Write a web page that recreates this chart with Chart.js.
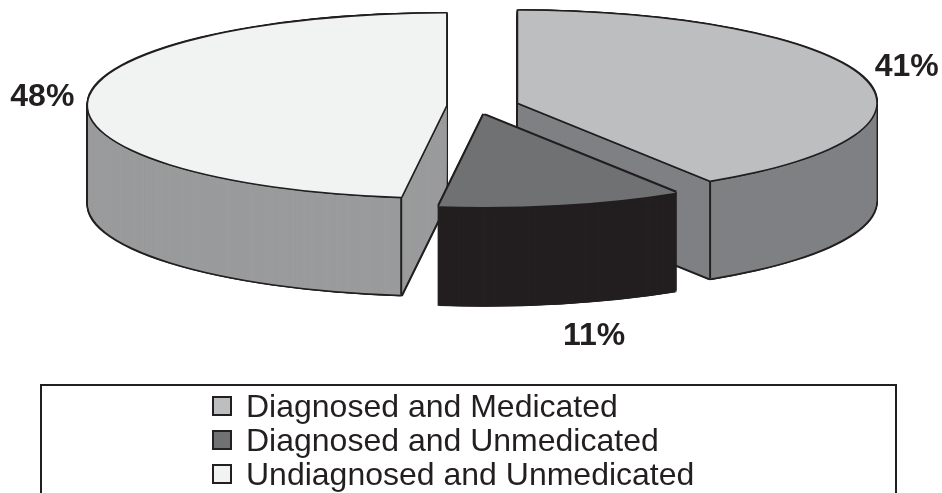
<!DOCTYPE html>
<html>
<head>
<meta charset="utf-8">
<script src="https://cdn.jsdelivr.net/npm/chart.js@4.4.1/dist/chart.umd.min.js"></script>
<style>
  body { margin: 0; background: #fff; }
  #wrap { position: relative; width: 942px; height: 493px; overflow: hidden; }
  #pie { position: absolute; left: 0; top: 0; }
  #legend {
    position: absolute; left: 40px; top: 384px; width: 857px; height: 140px;
    border: 2.5px solid #231f20; border-bottom: none; box-sizing: border-box;
    padding: 3px 0 0 170px;
    font-family: "Liberation Sans", Arial, sans-serif; font-size: 32px; color: #231f20;
  }
  .row { display: flex; align-items: center; height: 34px; white-space: nowrap; }
  .mark { width: 20px; height: 20px; border: 2.5px solid #231f20; box-sizing: border-box; margin-right: 14px; }
</style>
</head>
<body>
<div id="wrap">
  <canvas id="pie" width="942" height="493"></canvas>
  <div id="legend"></div>
</div>
<script>
  const labels = ['Diagnosed and Medicated', 'Diagnosed and Unmedicated', 'Undiagnosed and Unmedicated'];
  const values = [41, 11, 48];

  const TOP_COLORS = ['#bdbec0', '#707173', '#f1f2f2'];
  const SIDE_COLORS = ['#7f8083', '#231f20', '#9a9b9c'];
  const EDGE = '#231f20';
  const EXPLODE = [44, 36, 30];
  const LABEL_SHIFT_X = [0, 22, 0];
  const DEPTH = 98;
  const TILT = 0.257;
  const CENTER_Y = 106;
  const LINE = 1.6;

  function mid(arc) {
    return (arc.startAngle + arc.endAngle) / 2;
  }

  // draw a library arc element with a different fill and no border
  function drawArcAs(arc, ctx, color) {
    const saved = arc.options;
    arc.options = Object.assign({}, saved, { backgroundColor: color, borderWidth: 0, offset: 0, spacing: 0 });
    arc.draw(ctx);
    arc.options = saved;
  }

  const pie3d = {
    id: 'pie3d',
    beforeDatasetsDraw(chart) {
      const ctx = chart.ctx;
      const arcs = chart.getDatasetMeta(0).data;
      const order = arcs.map((_, i) => i).sort((a, b) => Math.sin(mid(arcs[a])) - Math.sin(mid(arcs[b])));

      order.forEach(i => {
        const arc = arcs[i];
        const m = mid(arc);
        const ex = Math.cos(m) * EXPLODE[i];
        const ey = Math.sin(m) * EXPLODE[i];
        const at = (sx, sy, color) => {
          ctx.save();
          ctx.translate(sx, CENTER_Y + sy);
          ctx.scale(1, TILT);
          ctx.translate(ex, ey - arc.y);
          drawArcAs(arc, ctx, color);
          ctx.restore();
        };

        // dark silhouette of the whole slab
        for (let s = -LINE; s <= DEPTH + LINE; s += 1) {
          at(-LINE, s, EDGE);
          at(LINE, s, EDGE);
        }
        at(0, DEPTH + LINE, EDGE);

        // side walls
        for (let s = DEPTH; s >= 1; s -= 1) at(0, s, SIDE_COLORS[i]);

        // vertical edges at the front corners
        const R = arc.outerRadius;
        ctx.save();
        ctx.strokeStyle = EDGE;
        ctx.lineWidth = 2;
        [arc.startAngle, arc.endAngle].forEach(a => {
          if (Math.sin(a) > 0.02) {
            const px = arc.x + ex + Math.cos(a) * R;
            const py = CENTER_Y + (ey + Math.sin(a) * R) * TILT;
            ctx.beginPath();
            ctx.moveTo(px, py);
            ctx.lineTo(px, py + DEPTH);
            ctx.stroke();
          }
        });
        ctx.restore();

        // top face with its outline
        for (let k = 0; k < 8; k++) {
          const t = k * Math.PI / 4;
          at(Math.cos(t) * LINE, Math.sin(t) * LINE, EDGE);
        }
        at(0, 0, TOP_COLORS[i]);
      });

      // percentage labels
      ctx.save();
      ctx.font = 'bold 32px "Liberation Sans", Arial, sans-serif';
      ctx.fillStyle = EDGE;
      ctx.textAlign = 'center';
      ctx.textBaseline = 'middle';
      arcs.forEach((arc, i) => {
        const m = mid(arc);
        const R = arc.outerRadius;
        const ex = Math.cos(m) * EXPLODE[i];
        const ey = Math.sin(m) * EXPLODE[i];
        const lx = arc.x + ex + Math.cos(m) * R * 1.13 + LABEL_SHIFT_X[i];
        const ly = CENTER_Y + ey * TILT + Math.sin(m) * R * 1.4 * TILT + DEPTH * Math.max(0, Math.sin(m));
        ctx.fillText(values[i] + '%', lx, ly);
      });
      ctx.restore();
      return false;
    }
  };

  new Chart(document.getElementById('pie'), {
    type: 'pie',
    data: {
      labels: labels,
      datasets: [{
        data: values,
        backgroundColor: TOP_COLORS,
        borderColor: EDGE,
        borderWidth: 0,
        radius: 358
      }]
    },
    options: {
      responsive: false,
      animation: false,
      events: [],
      layout: { padding: { left: 10 } },
      plugins: {
        legend: { display: false },
        tooltip: { enabled: false }
      }
    },
    plugins: [pie3d]
  });

  const legendEl = document.getElementById('legend');
  labels.forEach((label, i) => {
    const row = document.createElement('div');
    row.className = 'row';
    const mark = document.createElement('span');
    mark.className = 'mark';
    mark.style.background = TOP_COLORS[i];
    const text = document.createElement('span');
    text.textContent = label;
    row.appendChild(mark);
    row.appendChild(text);
    legendEl.appendChild(row);
  });
</script>
</body>
</html>
